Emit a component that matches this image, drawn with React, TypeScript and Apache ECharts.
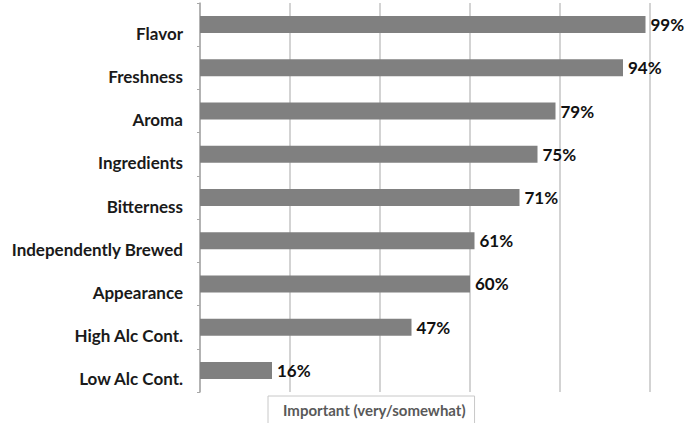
import React, { useEffect, useRef } from "react";
import * as echarts from "echarts";

const categories = [
  "Flavor",
  "Freshness",
  "Aroma",
  "Ingredients",
  "Bitterness",
  "Independently Brewed",
  "Appearance",
  "High Alc Cont.",
  "Low Alc Cont.",
];
const values = [99, 94, 79, 75, 71, 61, 60, 47, 16];
const seriesName = "Important (very/somewhat)";

export default function App() {
  const ref = useRef<HTMLDivElement>(null);
  useEffect(() => {
    if (!ref.current) return;
    const chart = echarts.init(ref.current, null, { renderer: "svg" });
    chart.setOption({
      animation: false,
      backgroundColor: "#ffffff",
      textStyle: { fontFamily: "Lato" },
      grid: { left: 200, right: 36, top: 3, bottom: 31, containLabel: false },
      legend: {
        data: [seriesName],
        left: 268,
        top: 396,
        icon: "none",
        itemWidth: 0,
        itemGap: 0,
        borderColor: "#c8c8c8",
        borderWidth: 1,
        padding: [6, 9, 8, 10],
        textStyle: { color: "#595959", fontSize: 15, fontWeight: "bold", fontFamily: "Lato" },
      },
      xAxis: {
        type: "value",
        min: 0,
        max: 100,
        interval: 20,
        axisLabel: { show: false },
        axisLine: { show: false },
        axisTick: { show: false },
        splitLine: { show: true, lineStyle: { color: "#c4c4c4", width: 1.5 } },
      },
      yAxis: {
        type: "category",
        data: categories,
        inverse: true,
        axisLine: { show: true, lineStyle: { color: "#a8a8a8", width: 1.5 } },
        axisTick: { show: true, length: 3, lineStyle: { color: "#a8a8a8" } },
        axisLabel: {
          color: "#1a1a1a",
          fontSize: 17,
          fontWeight: "bold",
          fontFamily: "Lato",
          margin: 17,
          verticalAlign: "top",
          lineHeight: 17,
        },
      },
      series: [
        {
          name: seriesName,
          type: "bar",
          data: values,
          barWidth: 17,
          itemStyle: { color: "#808080" },
          label: {
            show: true,
            position: "right",
            distance: 5,
            formatter: "{c}%",
            color: "#111",
            fontSize: 17,
            fontWeight: "bold",
            fontFamily: "Lato",
          },
        },
      ],
    });
    return () => chart.dispose();
  }, []);
  return (
    <div
      ref={ref}
      style={{ position: "absolute", left: 0, top: 0, width: 686, height: 423 }}
    />
  );
}
